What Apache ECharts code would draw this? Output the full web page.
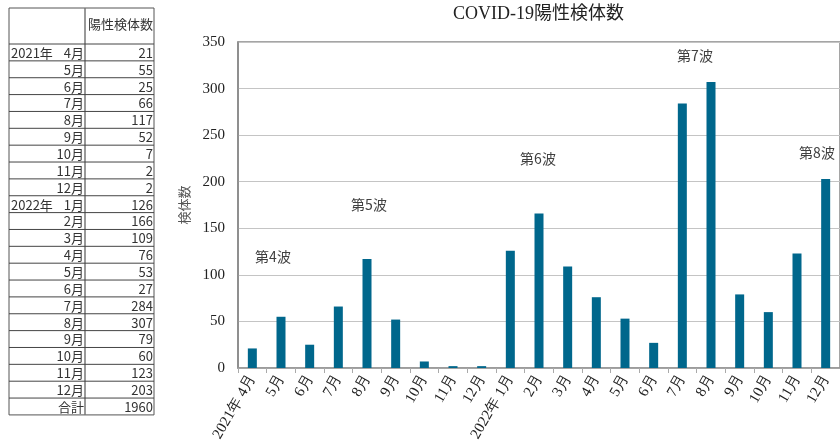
<!DOCTYPE html>
<html><head><meta charset="utf-8">
<script src="https://cdn.jsdelivr.net/npm/echarts@6/dist/echarts.min.js"></script>
<style>html,body{margin:0;padding:0;background:#fff}#c{width:840px;height:446px}</style>
</head><body><div id="c"></div>
<script>
var titleText = 'COVID-19陽性検体数';
var yAxisName = '検体数';
var headerLabel = '陽性検体数';
var totalLabel = '合計';
var months = ['4月','5月','6月','7月','8月','9月','10月','11月','12月','1月','2月','3月','4月','5月','6月','7月','8月','9月','10月','11月','12月'];
var yearPrefix = {0:'2021年', 9:'2022年'};
var values = [21,55,25,66,117,52,7,2,2,126,166,109,76,53,27,284,307,79,60,123,203];
var total = 1960;
var waveLabels = ['第4波','第5波','第6波','第7波','第8波'];
var wavePos = [[273,257],[369,205],[538,159],[695,56],[817,153]];

var categories = months.map(function(m,i){ return yearPrefix[i] ? yearPrefix[i] + ' ' + m : m; });

function buildGraphics() {
  var els = [];
  var tL = 9, tR = 154, tMid = 85, tTop = 8, hBot = 44, rowH = 16.86;
  var nRows = months.length + 1;
  var tBot = hBot + nRows * rowH;
  var tf = '"Noto Sans CJK JP", sans-serif';
  var fs = 13;
  els.push({type:'rect', shape:{x:tL, y:tTop, width:tR-tL, height:tBot-tTop}, style:{fill:'none', stroke:'#555', lineWidth:1}});
  els.push({type:'line', shape:{x1:tMid, y1:tTop, x2:tMid, y2:tBot}, style:{stroke:'#777', lineWidth:1.5}});
  els.push({type:'text', x:tR-1, y:(tTop+hBot)/2-2, style:{text:headerLabel, textAlign:'right', textVerticalAlign:'middle', fontSize:fs, fontFamily:tf, fill:'#333'}});
  for (var i = 0; i < nRows; i++) {
    var rowTop = hBot + i * rowH;
    els.push({type:'line', shape:{x1:tL, y1:rowTop, x2:tR, y2:rowTop}, style:{stroke:'#444', lineWidth:1}});
    var cy = rowTop + rowH/2 + 0.5;
    var lbl = i < months.length ? months[i] : totalLabel;
    var val = i < months.length ? values[i] : total;
    els.push({type:'text', x:tMid-1, y:cy, style:{text:lbl, textAlign:'right', textVerticalAlign:'middle', fontSize:fs, fontFamily:tf, fill:'#333'}});
    if (yearPrefix[i]) els.push({type:'text', x:tL+2, y:cy, style:{text:yearPrefix[i], textAlign:'left', textVerticalAlign:'middle', fontSize:fs, fontFamily:tf, fill:'#333'}});
    els.push({type:'text', x:tR-1, y:cy, style:{text:String(val), textAlign:'right', textVerticalAlign:'middle', fontSize:fs, fontFamily:tf, fill:'#333'}});
  }
  waveLabels.forEach(function(w,i){
    els.push({type:'text', x:wavePos[i][0], y:wavePos[i][1], style:{text:w, textAlign:'center', textVerticalAlign:'middle', fontSize:14, fontFamily:tf, fill:'#404040'}});
  });
  return els;
}

var chart = echarts.init(document.getElementById('c'));
chart.setOption({
  animation:false,
  backgroundColor:'#fff',
  title:{text:titleText, left:448, top:0, textStyle:{fontFamily:'"Liberation Serif", "Noto Sans CJK JP", serif', fontSize:18, fontWeight:'normal', color:'#222'}},
  grid:{left:238, top:42, width:610, bottom:78, show:true, borderColor:'#888', borderWidth:1.5},
  xAxis:{type:'category', data:categories,
    axisLine:{lineStyle:{color:'#999', width:1.5}},
    axisTick:{show:true, length:5, lineStyle:{color:'#aaa'}},
    axisLabel:{rotate:60, interval:0, margin:8, fontFamily:'"Liberation Serif", serif', fontSize:15, color:'#222'}},
  yAxis:{type:'value', min:0, max:350, interval:50,
    name:yAxisName, nameLocation:'middle', nameRotate:90, nameGap:47,
    nameTextStyle:{fontFamily:'"Noto Sans CJK JP", sans-serif', fontSize:13, color:'#555'},
    axisLine:{show:true, lineStyle:{color:'#888', width:1.5}},
    axisTick:{show:false},
    axisLabel:{margin:13, fontFamily:'"Liberation Serif", serif', fontSize:15, color:'#222'},
    splitLine:{lineStyle:{color:'#c4c4c4', width:1}}},
  series:[{type:'bar', data:values, barWidth:9, itemStyle:{color:'#00678C'}}],
  graphic:buildGraphics()
});
</script></body></html>
